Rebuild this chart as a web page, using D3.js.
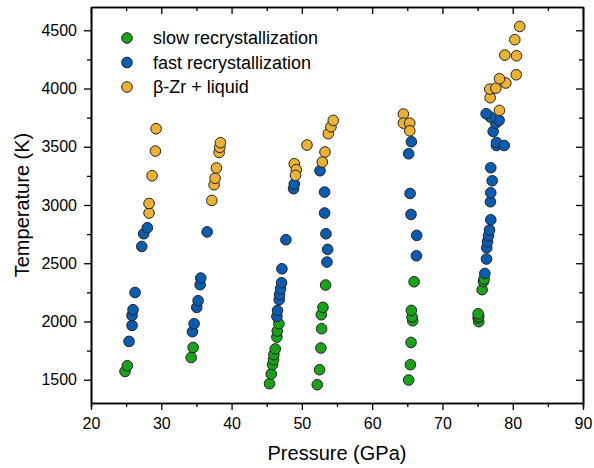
<!DOCTYPE html>
<html>
<head>
<meta charset="utf-8">
<script src="https://cdn.jsdelivr.net/npm/d3@7"></script>
<style>
  body { margin: 0; background: #fff; }
  text { font-family: Arial, "Liberation Sans", sans-serif; fill: #000; }
</style>
</head>
<body>
<div id="chart"></div>
<script>
// series: [pressure GPa, temperature K]
var slowData = [
  [24.84,1571],[25.17,1620],[34.25,1691],[34.53,1777],
  [45.4,1466],[45.64,1549],[45.83,1629],[45.97,1672],[46.02,1715],[46.21,1764],[46.45,1866],[46.5,1918],[46.73,1981],
  [52.19,1457],[52.52,1586],[52.71,1772],[52.81,1938],[52.76,2058],[53.0,2121],[53.38,2313],
  [65.2,1497],[65.44,1629],[65.54,1820],[65.77,2006],[65.68,2038],[65.58,2095],[65.97,2341],
  [75.17,1998],[75.08,2030],[75.17,2043],[75.08,2066],[75.65,2273],[75.84,2344],[75.93,2364]
];
var fastData = [
  [25.41,1829],[25.84,1966],[25.84,2052],[25.98,2101],[26.27,2249],[27.22,2644],[27.5,2753],[28.02,2805],
  [34.43,1912],[34.67,1981],[35.05,2121],[35.24,2178],[35.53,2316],[35.62,2373],[36.52,2769],
  [46.45,2043],[46.54,2095],[46.78,2187],[46.83,2230],[46.97,2281],[47.11,2333],[47.16,2452],[47.73,2702],[48.82,3140],[48.92,3180],
  [52.58,3294],[53.24,3111],[53.24,2931],[53.43,2753],[53.67,2619],[53.57,2510],
  [65.2,3440],[65.58,3543],[65.4,3099],[65.53,2919],[66.34,2739],[66.3,2564],
  [76.03,2412],[76.27,2536],[76.31,2633],[76.41,2685],[76.55,2736],[76.7,2785],[76.88,2873],[76.83,3028],[76.88,3105],[77.08,3208],[76.88,3320],
  [77.69,3511],[77.69,3537],[78.79,3511],[77.22,3632],[77.6,3703],[78.07,3727],[76.84,3755],[76.22,3784]
];
var liquidData = [
  [28.26,2931],[28.26,3013],[28.69,3251],[29.16,3463],[29.26,3655],
  [37.19,3039],[37.52,3174],[37.66,3229],[37.85,3318],[38.23,3451],[38.32,3495],[38.42,3535],
  [48.92,3354],[49.2,3303],[49.1,3254],[50.73,3515],
  [52.91,3369],[53.29,3455],[53.76,3612],[54.14,3672],[54.47,3726],
  [64.44,3781],[64.44,3703],[65.35,3703],[65.35,3637],
  [78.12,3812],[76.79,3921],[76.74,3995],[77.6,4003],[79.02,4047],[78.12,4084],[80.5,4118],[80.54,4281],[78.88,4287],[80.3,4419],[81.0,4533]
];
var seriesNames = ["slow recrystallization", "fast recrystallization", "\u03B2-Zr + liquid"];
var xTicks = [20, 30, 40, 50, 60, 70, 80, 90];
var yTicks = [1500, 2000, 2500, 3000, 3500, 4000, 4500];

var W = 594, H = 468;
var margin = {top: 7, right: 11, bottom: 65, left: 91};
var width = W - margin.left - margin.right,
    height = H - margin.top - margin.bottom;

var svg = d3.select("#chart").append("svg")
    .attr("width", W).attr("height", H)
  .append("g")
    .attr("transform", "translate(" + margin.left + "," + margin.top + ")");

var x = d3.scaleLinear().domain([20, 90]).range([0, width]);
var y = d3.scaleLinear().domain([1300, 4700]).range([height, 0]);

var color = d3.scaleOrdinal().domain(seriesNames).range(["#1aa31a", "#0a5cb0", "#ecb232"]);

// minor ticks
var xMinor = d3.range(25, 90, 10);
var yMinor = d3.range(1750, 4700, 500);

function styleAxis(g) {
  g.select(".domain").attr("stroke", "#000").attr("stroke-width", 1.6);
  g.selectAll(".tick line").attr("stroke", "#000").attr("stroke-width", 1.3);
  g.selectAll(".tick text").style("font-size", "16px");
}

// bottom
svg.append("g").attr("transform", "translate(0," + height + ")")
  .call(d3.axisBottom(x).tickValues(xMinor).tickSize(4).tickFormat(""))
  .call(styleAxis);
svg.append("g").attr("transform", "translate(0," + height + ")")
  .call(d3.axisBottom(x).tickValues(xTicks).tickSize(7).tickSizeOuter(0).tickPadding(8))
  .call(styleAxis);
// top (inward)
svg.append("g")
  .call(d3.axisBottom(x).tickValues(xMinor).tickSize(4).tickFormat("").tickSizeOuter(0))
  .call(styleAxis);
svg.append("g")
  .call(d3.axisBottom(x).tickValues(xTicks).tickSize(7).tickFormat("").tickSizeOuter(0))
  .call(styleAxis);
// left
svg.append("g")
  .call(d3.axisLeft(y).tickValues(yMinor).tickSize(4).tickFormat("").tickSizeOuter(0))
  .call(styleAxis);
svg.append("g")
  .call(d3.axisLeft(y).tickValues(yTicks).tickSize(7).tickSizeOuter(0).tickPadding(7).tickFormat(d3.format("d")))
  .call(styleAxis);
// right (inward)
svg.append("g").attr("transform", "translate(" + width + ",0)")
  .call(d3.axisLeft(y).tickValues(yMinor).tickSize(4).tickFormat("").tickSizeOuter(0))
  .call(styleAxis);
svg.append("g").attr("transform", "translate(" + width + ",0)")
  .call(d3.axisLeft(y).tickValues(yTicks).tickSize(7).tickFormat("").tickSizeOuter(0))
  .call(styleAxis);

// axis titles
svg.append("text")
  .attr("x", width / 2).attr("y", height + 57)
  .attr("text-anchor", "middle")
  .style("font-size", "20px")
  .text("Pressure (GPa)");
svg.append("text")
  .attr("transform", "translate(" + (-62) + "," + (height / 2) + ") rotate(-90)")
  .attr("text-anchor", "middle")
  .style("font-size", "20px")
  .text("Temperature (K)");

// points
var allSeries = [slowData, fastData, liquidData];
allSeries.forEach(function(data, i) {
  svg.append("g").selectAll("circle")
    .data(data)
    .enter()
    .append("circle")
      .attr("cx", function(d) { return x(d[0]); })
      .attr("cy", function(d) { return y(d[1]); })
      .attr("r", 5.3)
      .style("fill", color(seriesNames[i]))
      .style("stroke", "#222")
      .style("stroke-width", 1);
});

// legend
var legend = svg.append("g").attr("transform", "translate(36,31)");
seriesNames.forEach(function(name, i) {
  var row = legend.append("g").attr("transform", "translate(0," + (i * 24.5) + ")");
  row.append("circle").attr("r", 5.3)
    .style("fill", color(name)).style("stroke", "#222").style("stroke-width", 1);
  row.append("text").attr("x", 26).attr("dy", "0.35em")
    .style("font-size", "18px").text(name);
});
</script>
</body>
</html>
